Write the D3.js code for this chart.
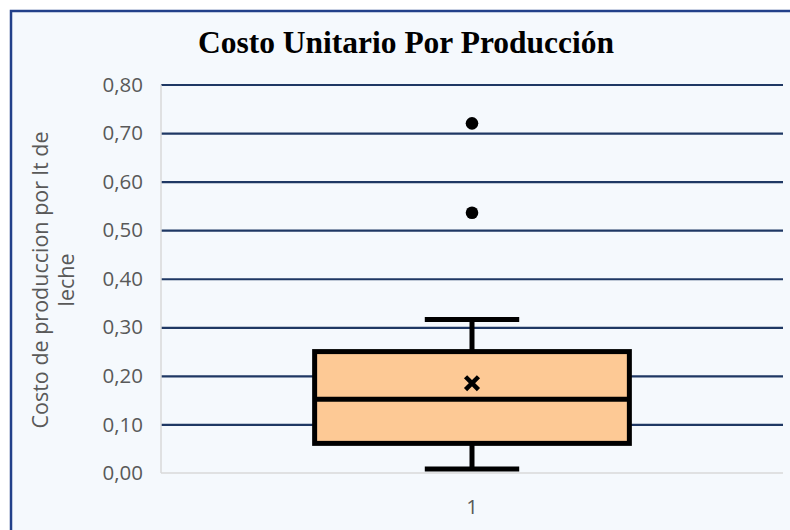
<!DOCTYPE html>
<html>
<head>
<meta charset="utf-8">
<script src="https://cdn.jsdelivr.net/npm/d3@7"></script>
<style>
  body { margin: 0; background: #fff; }
  svg { display: block; }
</style>
</head>
<body>
<svg id="chart" width="790" height="530"></svg>
<script>
// box plot summary
const categories = ["1"];
const whiskerLow = [0.008];
const q1Values = [0.061];
const medianValues = [0.152];
const q3Values = [0.25];
const whiskerHigh = [0.316];
const meanValues = [0.185];
const outlierValues = [[0.536, 0.72]];
const yTicks = [0, 0.1, 0.2, 0.3, 0.4, 0.5, 0.6, 0.7, 0.8];

const width = 790, height = 530;
const margin = { top: 84.5, right: 7, bottom: 57, left: 161 };
const navy = "#1f3864";
const gray = "#595959";

const svg = d3.select("#chart");

// chart area with border (runs off the right/bottom edge)
svg.append("rect")
    .attr("x", 11)
    .attr("y", 11)
    .attr("width", width + 20)
    .attr("height", height + 20)
    .attr("fill", "#f5f9fd")
    .attr("stroke", "#22408a")
    .attr("stroke-width", 2.5);

const x = d3.scaleBand()
    .domain(categories)
    .range([margin.left, width - margin.right]);

const y = d3.scaleLinear()
    .domain([0, 0.8])
    .range([height - margin.bottom, margin.top]);

const fmt = d => d3.format(".2f")(d).replace(".", ",");

// gridlines
svg.append("g")
    .attr("transform", `translate(${margin.left},0)`)
    .call(d3.axisLeft(y).tickValues(yTicks.filter(d => d > 0))
        .tickSize(-(width - margin.left - margin.right))
        .tickFormat(""))
    .call(g => g.select(".domain").remove())
    .selectAll("line")
    .attr("stroke", navy)
    .attr("stroke-width", 2.2);

// light axis lines
svg.append("line")
    .attr("x1", margin.left).attr("x2", margin.left)
    .attr("y1", y(0.8)).attr("y2", y(0))
    .attr("stroke", "#d9d9d9").attr("stroke-width", 1.5);
svg.append("line")
    .attr("x1", margin.left).attr("x2", width - margin.right)
    .attr("y1", y(0)).attr("y2", y(0))
    .attr("stroke", "#d9d9d9").attr("stroke-width", 1.5);

// y tick labels
svg.append("g")
    .attr("transform", `translate(${margin.left},0)`)
    .call(d3.axisLeft(y).tickValues(yTicks).tickFormat(fmt).tickSize(0).tickPadding(18))
    .call(g => g.select(".domain").remove())
    .selectAll("text")
    .attr("fill", gray)
    .style("font-family", "'Open Sans', sans-serif")
    .style("font-size", "20.5px");

// x tick label
svg.append("g")
    .attr("transform", `translate(0,${y(0)})`)
    .call(d3.axisBottom(x).tickSize(0).tickPadding(26))
    .call(g => g.select(".domain").remove())
    .selectAll("text")
    .attr("fill", gray)
    .style("font-family", "'Open Sans', sans-serif")
    .style("font-size", "20.5px");

// boxes
const boxW = x.bandwidth() * 0.506;
const capW = boxW * 0.3;
const lw = 5;

const box = svg.append("g")
    .selectAll("g")
    .data(categories.map((c, i) => ({
        c, lo: whiskerLow[i], q1: q1Values[i], med: medianValues[i],
        q3: q3Values[i], hi: whiskerHigh[i], mean: meanValues[i], out: outlierValues[i]
    })))
    .join("g")
    .attr("transform", d => `translate(${x(d.c) + x.bandwidth() / 2},0)`);

box.append("line")
    .attr("y1", d => y(d.hi)).attr("y2", d => y(d.q3))
    .attr("stroke", "#000").attr("stroke-width", lw);
box.append("line")
    .attr("y1", d => y(d.lo)).attr("y2", d => y(d.q1))
    .attr("stroke", "#000").attr("stroke-width", lw);
box.append("line")
    .attr("x1", -capW / 2).attr("x2", capW / 2)
    .attr("y1", d => y(d.hi)).attr("y2", d => y(d.hi))
    .attr("stroke", "#000").attr("stroke-width", lw);
box.append("line")
    .attr("x1", -capW / 2).attr("x2", capW / 2)
    .attr("y1", d => y(d.lo)).attr("y2", d => y(d.lo))
    .attr("stroke", "#000").attr("stroke-width", lw);

box.append("rect")
    .attr("x", -boxW / 2)
    .attr("width", boxW)
    .attr("y", d => y(d.q3))
    .attr("height", d => y(d.q1) - y(d.q3))
    .attr("fill", "#fdc995")
    .attr("stroke", "#000")
    .attr("stroke-width", lw);

box.append("line")
    .attr("x1", -boxW / 2).attr("x2", boxW / 2)
    .attr("y1", d => y(d.med)).attr("y2", d => y(d.med))
    .attr("stroke", "#000").attr("stroke-width", lw);

// mean marker
box.append("path")
    .attr("d", d3.symbol(d3.symbolX, 110))
    .attr("transform", d => `translate(0,${y(d.mean)})`)
    .attr("fill", "none")
    .attr("stroke", "#000")
    .attr("stroke-width", 4.5);

// outliers
box.selectAll("circle")
    .data(d => d.out)
    .join("circle")
    .attr("cy", d => y(d))
    .attr("r", 6.3)
    .attr("fill", "#000");

// title
svg.append("text")
    .attr("x", 406)
    .attr("y", 53)
    .attr("text-anchor", "middle")
    .style("font-family", "'Liberation Serif', 'Times New Roman', serif")
    .style("font-weight", "bold")
    .style("font-size", "31.5px")
    .attr("fill", "#000")
    .text("Costo Unitario Por Producción");

// y axis title, two lines
const yTitle = svg.append("text")
    .attr("transform", `translate(40,280) rotate(-90)`)
    .attr("text-anchor", "middle")
    .attr("fill", gray)
    .style("font-family", "'Open Sans', sans-serif")
    .style("font-size", "21.5px");
["Costo de produccion por lt de", "leche"].forEach((t, i) => {
    yTitle.append("tspan")
        .attr("x", 0)
        .attr("y", i * 26.7)
        .attr("dy", "0.35em")
        .text(t);
});
</script>
</body>
</html>
